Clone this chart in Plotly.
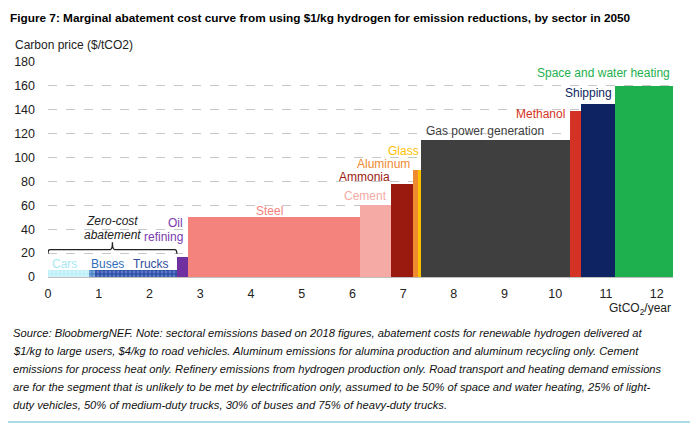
import plotly.graph_objects as go
import numpy as np

# ---- data ----
sectors = ["Cars", "Buses", "Trucks", "Oil refining", "Steel", "Cement", "Ammonia",
           "Aluminum", "Glass", "Gas power generation", "Methanol", "Shipping",
           "Space and water heating"]
abatement_gt = [0.81, 0.12, 1.61, 0.21, 3.40, 0.61, 0.43, 0.10, 0.07, 2.93, 0.21, 0.68, 1.14]
carbon_price = [6, 6, 6, 17, 50, 60, 78, 90, 90, 115, 139, 145, 160]
bar_colors = ["#BDEFF6", "#4F86C6", "#2D4FA8", "#7030A0", "#F3837C", "#F5AAA5", "#9A1A10",
              "#F08A30", "#FFC000", "#3F3F3F", "#D43224", "#0E2462", "#1EB04E"]
y_ticks = [0, 20, 40, 60, 80, 100, 120, 140, 160, 180]
x_ticks = list(range(0, 13))

widths = np.array(abatement_gt)
starts = np.concatenate([[0], np.cumsum(widths)[:-1]])
mids = starts + widths / 2

# pixel geometry of plot area
W_FIG, H_FIG = 690, 430
L, R, T, B = 48, 673, 62, 277


def pxx(xp):
    return (xp - L) / (R - L)


def pxy(yp):
    return (B - yp) / (B - T)


fig = go.Figure()

patterns = []
for i, s in enumerate(sectors):
    if s == "Cars":
        pat = dict(shape=".", fgcolor="#E6FAFD", bgcolor=bar_colors[i], size=4, solidity=0.4)
    elif s == "Buses":
        pat = dict(shape=".", fgcolor="#A9C6EA", bgcolor=bar_colors[i], size=4, solidity=0.4)
    elif s == "Trucks":
        pat = dict(shape=".", fgcolor="#8FA6DD", bgcolor=bar_colors[i], size=4, solidity=0.4)
    else:
        pat = dict(shape="")
    patterns.append(pat)

for i, s in enumerate(sectors):
    fig.add_trace(go.Bar(
        x=[mids[i]], y=[carbon_price[i]], width=[widths[i]],
        marker=dict(color=bar_colors[i], line=dict(width=0), pattern=patterns[i]),
        name=s, showlegend=False, hoverinfo="name+y",
    ))

label_font = "Liberation Sans, Arial, sans-serif"
labels = [
    ("Cars", 0.33, 11, "#A6E8F2", "center"),
    ("Buses", 1.17, 11, "#2E6DB8", "center"),
    ("Trucks", 2.04, 11, "#2F4E9C", "center"),
    ("Oil", 2.70, 45, "#7A3AAE", "right"),
    ("refining", 2.70, 33.5, "#7A3AAE", "right"),
    ("Steel", 4.37, 55, "#F3837C", "center"),
    ("Cement", 6.25, 67.5, "#F5AAA5", "center"),
    ("Ammonia", 6.79, 84, "#9A1A10", "right"),
    ("Aluminum", 7.17, 94.5, "#F08A30", "right"),
    ("Glass", 7.36, 105.5, "#FFC000", "right"),
    ("Gas power generation", 7.42, 122, "#404040", "left"),
    ("Methanol", 10.23, 136.5, "#D43224", "right"),
    ("Shipping", 11.15, 154, "#0E2462", "right"),
    ("Space and water heating", 12.30, 171, "#1EB04E", "right"),
]
for t, x, y, c, xa in labels:
    fig.add_annotation(x=x, y=y, text=t, showarrow=False, xanchor=xa, yanchor="middle",
                       font=dict(family=label_font, size=12, color=c))

# zero-cost bracket
zc_end = float(np.sum(widths[:3]))
zc_mid = zc_end / 2
bx = 0.04
path = (f"M 0,19.5 Q 0,23 {bx},23 L {zc_mid - bx},23 Q {zc_mid},23 {zc_mid},29 "
        f"Q {zc_mid},23 {zc_mid + bx},23 L {zc_end - bx},23 Q {zc_end},23 {zc_end},19.5")
fig.add_shape(type="path", path=path, xref="x", yref="y",
              line=dict(color="#222222", width=1.3))
fig.add_annotation(x=zc_mid, y=47, text="<i>Zero-cost</i>", showarrow=False,
                   font=dict(family=label_font, size=12, color="#222222"))
fig.add_annotation(x=zc_mid, y=35, text="<i>abatement</i>", showarrow=False,
                   font=dict(family=label_font, size=12, color="#222222"))

# title
fig.add_annotation(xref="paper", yref="paper", x=pxx(8), y=pxy(18), xanchor="left", yanchor="middle",
                   text="<b>Figure 7: Marginal abatement cost curve from using $1/kg hydrogen for emission reductions, by sector in 2050</b>",
                   showarrow=False, font=dict(family=label_font, size=11.8, color="#000000"))
# y axis title
fig.add_annotation(xref="paper", yref="paper", x=pxx(13), y=pxy(45), xanchor="left", yanchor="middle",
                   text="Carbon price ($/tCO2)", showarrow=False,
                   font=dict(family=label_font, size=12, color="#222222"))
# x axis title
fig.add_annotation(xref="paper", yref="paper", x=pxx(673), y=pxy(309), xanchor="right", yanchor="middle",
                   text="GtCO<sub>2</sub>/year", showarrow=False,
                   font=dict(family=label_font, size=12, color="#222222"))

notes = [
    "Source: BloobmergNEF. Note: sectoral emissions based on 2018 figures, abatement costs for renewable hydrogen delivered at",
    "$1/kg to large users, $4/kg to road vehicles. Aluminum emissions for alumina production and aluminum recycling only. Cement",
    "emissions for process heat only. Refinery emissions from hydrogen production only. Road transport and heating demand emissions",
    "are for the segment that is unlikely to be met by electrification only, assumed to be 50% of space and water heating, 25% of light-",
    "duty vehicles, 50% of medium-duty trucks, 30% of buses and 75% of heavy-duty trucks.",
]
for k, line in enumerate(notes):
    fig.add_annotation(xref="paper", yref="paper", x=pxx(11), y=pxy(333 + k * 18.0), xanchor="left",
                       yanchor="middle", text=f"<i>{line}</i>", showarrow=False,
                       font=dict(family=label_font, size=11.2, color="#111111"))

fig.add_shape(type="line", xref="paper", yref="paper", x0=pxx(8), x1=pxx(690), y0=pxy(422), y1=pxy(422),
              line=dict(color="#A9DCE6", width=2))

fig.update_layout(
    width=W_FIG, height=H_FIG,
    margin=dict(l=L, r=W_FIG - R, t=T, b=H_FIG - B, pad=0),
    paper_bgcolor="white", plot_bgcolor="white",
    bargap=0,
    font=dict(family=label_font, color="#222222"),
    xaxis=dict(range=[0, 12.32], tickvals=x_ticks, ticktext=[str(v) for v in x_ticks],
               showgrid=False, zeroline=False, showline=True, linecolor="#BFBFBF", linewidth=1,
               ticks="", tickfont=dict(size=12.5, color="#222222"), ticklabelstandoff=5,
               fixedrange=True),
    yaxis=dict(range=[0, 180], tickvals=y_ticks, showgrid=True, gridcolor="#C8C8C8",
               griddash="dash", gridwidth=1, zeroline=False, showline=False, ticks="",
               tickfont=dict(size=12.5, color="#222222"), ticklabelstandoff=12, fixedrange=True),
)

fig.write_html("out.html", config={"displayModeBar": False},
               post_script="document.body.style.margin='0';document.body.style.overflow='hidden';")
